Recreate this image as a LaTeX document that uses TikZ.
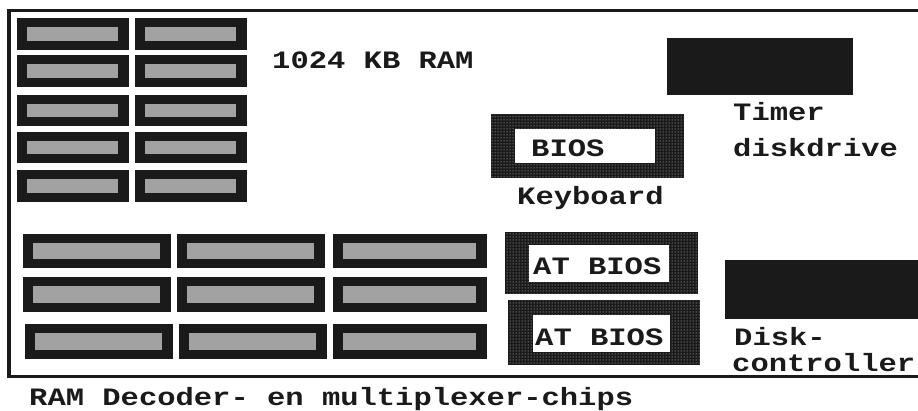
\documentclass[tikz,border=0pt]{standalone}
\usepackage{fontspec}
\usetikzlibrary{patterns}
\newfontfamily\pixfont[FakeStretch=1.22]{Liberation Mono}
\definecolor{ink}{HTML}{1A1A1A}
\definecolor{hatch}{HTML}{A2A2A2}
\newcommand\chipbox[4]{%
  \fill[ink] (#1,#2) rectangle (#3,#4);
  \fill[hatch] ({#1+10},{#2+9}) rectangle ({#3-11},{#4-9});}
\newcommand\biosbox[8]{%
  \fill[ink] (#1,#2) rectangle (#3,#4);
  \fill[pattern=dots, pattern color=white!85!black] (#1,#2) rectangle (#3,#4);
  \fill[white] (#5,#6) rectangle (#7,#8);}
\tikzset{lbl/.style={anchor=base west, inner sep=0pt, text=ink,
  font=\pixfont\bfseries\fontsize{25}{30}\selectfont}}
\begin{document}
\begin{tikzpicture}[x=1pt,y=-1pt]
\clip (0,0) rectangle (918,411);
\fill[white] (0,0) rectangle (918,411);
% frame
\draw[ink, line width=3.5pt] (940,10.5) -- (9,10.5) -- (9,376.5) -- (940,376.5);
% small RAM chips
\foreach \ya/\yb in {18/50, 55/87, 95/126, 132/163, 170/202}{
  \chipbox{17}{\ya}{129}{\yb}
  \chipbox{135}{\ya}{247}{\yb}
}
% large chips
\foreach \ya/\yb in {234/268, 277/312}{
  \chipbox{23}{\ya}{171}{\yb}
  \chipbox{177}{\ya}{325}{\yb}
  \chipbox{333}{\ya}{487}{\yb}
}
\chipbox{25}{324}{173}{359}
\chipbox{179}{324}{327}{359}
\chipbox{333}{324}{487}{359}
% Timer and disk controller blocks
\fill[ink] (667,38) rectangle (853,95);
\fill[ink] (725,260) rectangle (930,319);
% BIOS blocks
\biosbox{491}{114}{684}{178}{515}{129}{655}{163}
\biosbox{505}{232}{698}{294}{529}{245}{669}{282}
\biosbox{508}{300}{700}{365}{533}{315}{670}{352}
% labels
\node[lbl] (ram) at (272,69) {1024 KB RAM};
\node[lbl] (bios) at (531,157) {BIOS};
\node[lbl] (kbd) at (517,205) {Keyboard};
\node[lbl] (atb1) at (533,275) {AT BIOS};
\node[lbl] (atb2) at (535,346) {AT BIOS};
\node[lbl] (timer) at (733,121) {Timer};
\node[lbl] (dd) at (733,157) {diskdrive};
\node[lbl] (disk) at (734,346) {Disk-};
\node[lbl] (ctrl) at (732,371) {controller};
\node[lbl] (dec) at (29,405) {RAM Decoder- en multiplexer-chips};
\end{tikzpicture}
\end{document}
